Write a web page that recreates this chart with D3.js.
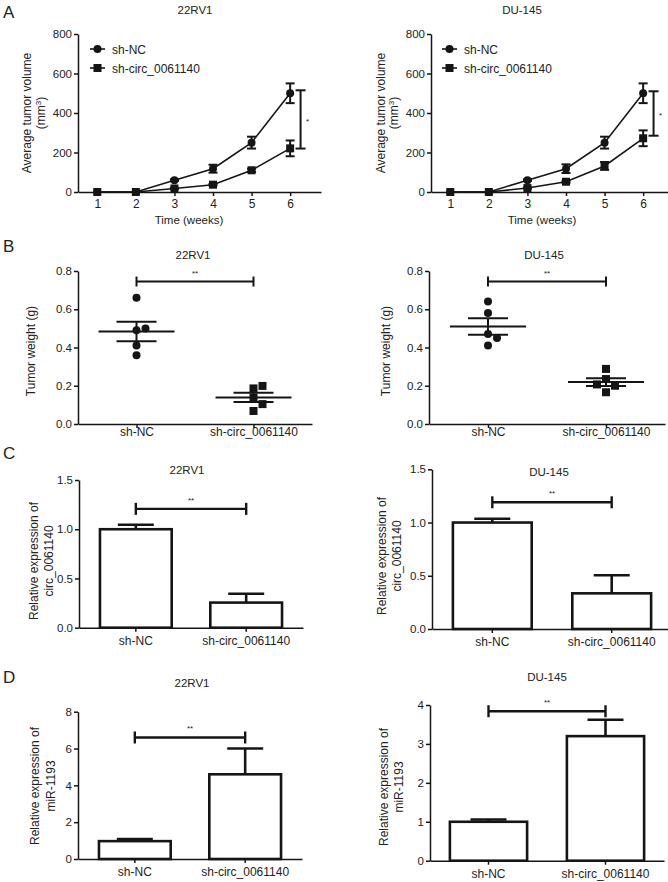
<!DOCTYPE html>
<html><head><meta charset="utf-8">
<script src="https://cdn.jsdelivr.net/npm/d3@7"></script>
<style>
body{margin:0;background:#fff;}
svg text{font-family:"Liberation Sans",Arial,Helvetica,sans-serif;fill:#222;}
</style></head><body>
<svg id="c" width="668" height="882"></svg>
<script>
// ---------------- DATA ----------------
const weeks = [1, 2, 3, 4, 5, 6];
const groups = ["sh-NC", "sh-circ_0061140"];
const volTicks = [0, 200, 400, 600, 800];
const weightTicks = [0, 0.2, 0.4, 0.6, 0.8];
const circTicks = [0, 0.5, 1.0, 1.5];
const mir22Ticks = [0, 2, 4, 6, 8];
const mirDUTicks = [0, 1, 2, 3, 4];

// A: tumour volume (mm3)
const vol22NC = [0, 0, 60, 118, 250, 500];
const vol22NCsem = [0, 0, 4, 20, 30, 50];
const vol22Circ = [0, 0, 18, 37, 110, 221];
const vol22CircSem = [0, 0, 3, 4, 8, 40];
const volDUNC = [0, 0, 60, 118, 250, 500];
const volDUNCsem = [0, 0, 4, 22, 30, 50];
const volDUCirc = [0, 0, 20, 52, 132, 272];
const volDUCircSem = [0, 0, 3, 5, 20, 40];
const volSig22 = [220, 515];
const volSigDU = [285, 510];
const volSigWeek = 6.27;

// B: tumour weight (g)
const wt22NC = [0.66, 0.49, 0.50, 0.41, 0.36];
const wt22Circ = [0.186, 0.199, 0.138, 0.104, 0.068];
const wtDUNC = [0.64, 0.58, 0.47, 0.45, 0.41];
const wtDUCirc = [0.288, 0.235, 0.207, 0.20, 0.166];
const wtSig = 0.745;

// C: relative expression of circ_0061140
const circ22 = [1.00, 0.255];
const circ22Sem = [0.045, 0.09];
const circDU = [1.00, 0.335];
const circDUSem = [0.035, 0.17];
const circSig22 = 1.207;
const circSigDU = 1.19;

// D: relative expression of miR-1193
const mir22 = [0.97, 4.6];
const mir22Sem = [0.12, 1.4];
const mirDU = [1.0, 3.2];
const mirDUSem = [0.06, 0.42];
const mirSig22 = 6.6;
const mirSigDU = 3.84;

// ---------------- DRAW ----------------
const svg = d3.select("#c");
const INK = "#151515";
const TICKFS = 11.5;

function styleAxis(g, fs) {
  g.attr("font-family", null).attr("font-size", null);
  g.select(".domain").attr("stroke", INK).attr("stroke-width", 1.5);
  g.selectAll(".tick line").attr("stroke", INK).attr("stroke-width", 1.5);
  g.selectAll(".tick text").attr("fill", "#222").attr("font-size", fs || TICKFS);
}
function txt(x, y, s, opt) {
  opt = opt || {};
  const t = svg.append("text").attr("x", x).attr("y", y)
    .attr("font-size", opt.fs || 12).attr("text-anchor", opt.anchor || "middle");
  if (opt.rot) t.attr("transform", `rotate(-90,${x},${y})`);
  t.text(s);
  return t;
}
function line(x1, y1, x2, y2, w) {
  svg.append("line").attr("x1", x1).attr("y1", y1).attr("x2", x2).attr("y2", y2)
    .attr("stroke", INK).attr("stroke-width", w || 2);
}
function yAxis(y, ax, ticks, fmt) {
  const g = svg.append("g").attr("transform", `translate(${ax},0)`)
    .call(d3.axisLeft(y).tickValues(ticks).tickSize(4).tickSizeOuter(0).tickFormat(fmt));
  styleAxis(g);
  g.selectAll(".tick text").attr("x", -6);
}
function xAxis(x, ay, ticks, off, fmt) {
  const ax = d3.axisBottom(x).tickSize(4).tickSizeOuter(0);
  if (ticks) ax.tickValues(ticks);
  if (fmt) ax.tickFormat(fmt);
  const g = svg.append("g").attr("transform", `translate(0,${ay})`).call(ax);
  styleAxis(g, 12);
  g.selectAll(".tick text").attr("dy", null).attr("y", off);
}

// panel letters
txt(3, 18, "A", {fs: 17, anchor: "start"});
txt(3, 252, "B", {fs: 17, anchor: "start"});
txt(3, 459, "C", {fs: 17, anchor: "start"});
txt(3, 683, "D", {fs: 17, anchor: "start"});

// ---- A ----
function linePanel(p) {
  const x = d3.scaleLinear().domain([0.5, 6.8]).range([p.ax, p.ax + 243]);
  const y = d3.scaleLinear().domain([0, 800]).range([192, 34]);
  yAxis(y, p.ax, volTicks, d3.format("d"));
  xAxis(x, 192, weeks, 16, d3.format("d"));
  txt(p.titleX, 14, p.title, {fs: 11.5});
  txt(p.ax + 111, 224, "Time (weeks)", {fs: 11.5});
  txt(p.yl1, 113, "Average tumor volume", {rot: true});
  const t2 = txt(p.yl2, 113, "(mm", {rot: true});
  t2.append("tspan").attr("font-size", 8).attr("dy", -4).text("3");
  t2.append("tspan").attr("dy", 4).text(")");

  const series = [[p.nc, p.ncS, "circle"], [p.ci, p.ciS, "square"]];
  series.forEach(([v, s, shape]) => {
    const pts = weeks.map((w, i) => ({x: w, y: v[i], e: s[i]}));
    svg.append("path").datum(pts)
      .attr("d", d3.line().x(d => x(d.x)).y(d => y(d.y)))
      .attr("fill", "none").attr("stroke", INK).attr("stroke-width", 1.6);
    pts.filter(d => d.e > 0).forEach(d => {
      const cx = x(d.x);
      line(cx, y(d.y - d.e), cx, y(d.y + d.e), 2);
      line(cx - 4.5, y(d.y - d.e), cx + 4.5, y(d.y - d.e), 2);
      line(cx - 4.5, y(d.y + d.e), cx + 4.5, y(d.y + d.e), 2);
    });
    pts.forEach(d => {
      if (shape === "circle") svg.append("circle").attr("cx", x(d.x)).attr("cy", y(d.y)).attr("r", 4).attr("fill", INK);
      else svg.append("rect").attr("x", x(d.x) - 4).attr("y", y(d.y) - 4).attr("width", 8).attr("height", 8).attr("fill", INK);
    });
  });
  // legend
  [["circle", groups[0], 49], ["square", groups[1], 68]].forEach(([shape, lab, ly]) => {
    line(p.legX, ly, p.legX + 15, ly, 1.6);
    if (shape === "circle") svg.append("circle").attr("cx", p.legX + 7.5).attr("cy", ly).attr("r", 4).attr("fill", INK);
    else svg.append("rect").attr("x", p.legX + 3.5).attr("y", ly - 4).attr("width", 8).attr("height", 8).attr("fill", INK);
    txt(p.legX + 22, ly + 4.5, lab, {anchor: "start"});
  });
  // significance
  const sx = x(volSigWeek);
  line(sx, y(p.sig[0]), sx, y(p.sig[1]), 2);
  line(sx - 5, y(p.sig[0]), sx + 5, y(p.sig[0]), 2);
  line(sx - 5, y(p.sig[1]), sx + 5, y(p.sig[1]), 2);
  txt(sx + 7, y((p.sig[0] + p.sig[1]) / 2) + 5, "*", {fs: 8});
}
linePanel({ax: 78, title: "22RV1", titleX: 195, yl1: 31, yl2: 45, legX: 90,
  nc: vol22NC, ncS: vol22NCsem, ci: vol22Circ, ciS: vol22CircSem, sig: volSig22});
linePanel({ax: 431, title: "DU-145", titleX: 522, yl1: 385, yl2: 398, legX: 442,
  nc: volDUNC, ncS: volDUNCsem, ci: volDUCirc, ciS: volDUCircSem, sig: volSigDU});

// ---- B ----
function dotPanel(p) {
  const x = d3.scalePoint().domain(groups).range([p.ax, p.ax + p.w]).padding(0.5);
  const y = d3.scaleLinear().domain([0, 0.8]).range([424, 271]);
  yAxis(y, p.ax, weightTicks, d3.format(".1f"));
  xAxis(x, 424, null, 12);
  txt(p.titleX, 259, p.title, {fs: 11.5});
  txt(p.yl, 351, "Tumor weight (g)", {rot: true});
  [p.nc, p.ci].forEach((vals, gi) => {
    const cx = x(groups[gi]);
    const placed = [];
    vals.slice().sort(d3.ascending).forEach(v => {
      const py = y(v);
      for (const off of [0, 9, -9, 18, -18]) {
        if (!placed.some(q => q.off === off && Math.abs(q.py - py) < 8)) { placed.push({off, py}); break; }
      }
    });
    const m = d3.mean(vals), se = d3.deviation(vals) / Math.sqrt(vals.length);
    line(cx - 38, y(m), cx + 38, y(m), 2);
    line(cx, y(m - se), cx, y(m + se), 2);
    line(cx - 20, y(m - se), cx + 20, y(m - se), 2);
    line(cx - 20, y(m + se), cx + 20, y(m + se), 2);
    placed.forEach(q => {
      if (gi === 0) svg.append("circle").attr("cx", cx + q.off).attr("cy", q.py).attr("r", 4).attr("fill", INK);
      else svg.append("rect").attr("x", cx + q.off - 4).attr("y", q.py - 4).attr("width", 8).attr("height", 8).attr("fill", INK);
    });
  });
  const x0 = x(groups[0]), x1 = x(groups[1]), sy = y(wtSig);
  line(x0, sy, x1, sy, 2);
  line(x0, sy - 5, x0, sy + 5, 2);
  line(x1, sy - 5, x1, sy + 5, 2);
  txt((x0 + x1) / 2, sy - 6, "**", {fs: 8});
}
dotPanel({ax: 78, w: 234, title: "22RV1", titleX: 193, yl: 35, nc: wt22NC, ci: wt22Circ});
dotPanel({ax: 429, w: 236, title: "DU-145", titleX: 544, yl: 390, nc: wtDUNC, ci: wtDUCirc});

// ---- C & D ----
function barPanel(p) {
  const x = d3.scaleBand().domain(groups).range([p.ax, p.xEnd]).paddingInner(p.pi).paddingOuter(p.po);
  const y = d3.scaleLinear().domain([0, p.ymax]).range([p.y0, p.y1]);
  yAxis(y, p.ax, p.ticks, p.fmt);
  xAxis(x, p.y0, null, 17);
  txt(p.titleX, p.titleY, p.title, {fs: 11.5});
  txt(p.yl1, p.ylc, "Relative expression of", {rot: true});
  txt(p.yl2, p.ylc, p.ylab2, {rot: true});
  groups.forEach((g, i) => {
    const bx = x(g), bw = x.bandwidth(), cx = bx + bw / 2;
    const v = p.vals[i], e = p.sem[i];
    line(cx, y(v), cx, y(v + e), 2.6);
    line(cx - 18, y(v + e), cx + 18, y(v + e), 2.6);
    svg.append("rect").attr("x", bx).attr("y", y(v)).attr("width", bw).attr("height", p.y0 - y(v))
      .attr("fill", "#fff").attr("stroke", INK).attr("stroke-width", 2.6);
  });
  const x0 = x(groups[0]) + x.bandwidth() / 2, x1 = x(groups[1]) + x.bandwidth() / 2, sy = y(p.sig);
  line(x0, sy, x1, sy, 2.4);
  line(x0, sy - 6, x0, sy + 6, 2.4);
  line(x1, sy - 6, x1, sy + 6, 2.4);
  txt((x0 + x1) / 2, sy - 6, "**", {fs: 8});
}
barPanel({ax: 79, xEnd: 303, pi: 0.35, po: 0.19, ymax: 1.5, y0: 627.7, y1: 480, ticks: circTicks, fmt: d3.format(".1f"),
  title: "22RV1", titleX: 187, titleY: 474, yl1: 38, yl2: 53, ylc: 561, ylab2: "circ_0061140",
  vals: circ22, sem: circ22Sem, sig: circSig22});
barPanel({ax: 432, xEnd: 672, pi: 0.34, po: 0.175, ymax: 1.5, y0: 629, y1: 469.3, ticks: circTicks, fmt: d3.format(".1f"),
  title: "DU-145", titleX: 549, titleY: 476, yl1: 386, yl2: 401, ylc: 556, ylab2: "circ_0061140",
  vals: circDU, sem: circDUSem, sig: circSigDU});
barPanel({ax: 78, xEnd: 302, pi: 0.35, po: 0.19, ymax: 8, y0: 859, y1: 711.7, ticks: mir22Ticks, fmt: d3.format("d"),
  title: "22RV1", titleX: 192, titleY: 687, yl1: 39, yl2: 55, ylc: 786, ylab2: "miR-1193",
  vals: mir22, sem: mir22Sem, sig: mirSig22});
barPanel({ax: 430, xEnd: 664, pi: 0.34, po: 0.17, ymax: 4, y0: 860.7, y1: 705, ticks: mirDUTicks, fmt: d3.format("d"),
  title: "DU-145", titleX: 547, titleY: 681, yl1: 388, yl2: 403, ylc: 787, ylab2: "miR-1193",
  vals: mirDU, sem: mirDUSem, sig: mirSigDU});
</script>
</body></html>
